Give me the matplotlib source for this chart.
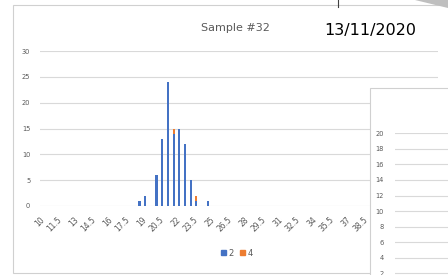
import numpy as np
import matplotlib
matplotlib.use("Agg")
import matplotlib.pyplot as plt
from matplotlib.patches import Rectangle, Polygon

# category labels (bin starts), step 0.5
cats = np.arange(10, 45, 0.5)

# series "2"
s2_bins = [18.5, 19, 20, 20.5, 21, 21.5, 22, 22.5, 23, 23.5, 24.5]
s2_counts = [1, 2, 6, 13, 24, 14, 15, 12, 5, 1, 1]
# series "4"
s4_bins = [21.5, 23.5]
s4_counts = [1, 1]

# second (partly hidden) chart y ticks
y2_ticks = [2, 4, 6, 8, 10, 12, 14, 16, 18, 20]

s2 = np.zeros(len(cats))
s4 = np.zeros(len(cats))
for b, c in zip(s2_bins, s2_counts):
    s2[np.where(np.isclose(cats, b))[0][0]] = c
for b, c in zip(s4_bins, s4_counts):
    s4[np.where(np.isclose(cats, b))[0][0]] = c

W, H = 448, 275
fig = plt.figure(figsize=(W / 100, H / 100), dpi=100)
fig.patch.set_facecolor("white")

def fx(px):
    return px / W

def fy(py):
    return 1 - py / H

blue = "#4472C4"
orange = "#ED7D31"
grid = "#d9d9d9"
tcol = "#595959"

# chart border
fig.patches.append(Rectangle((fx(13), fy(273)), fx(460) - fx(13), fy(5) - fy(273),
                             transform=fig.transFigure, facecolor="white",
                             edgecolor="#d0d0d0", lw=0.8, zorder=-1))
# bits of window at top right
fig.patches.append(Polygon([(fx(415), 1), (fx(448), 1), (fx(448), fy(8))],
                           closed=True, transform=fig.transFigure,
                           facecolor="#bfbfbf", edgecolor="none", zorder=-1))
fig.lines.append(plt.Line2D([fx(338), fx(338)], [1, fy(7)], transform=fig.transFigure,
                            color="#404040", lw=0.8))

ax = fig.add_axes([fx(40), fy(206), fx(438) - fx(40), fy(51) - fy(206)])
x = np.arange(len(cats))
ax.bar(x, s2, width=0.38, color=blue, zorder=3)
ax.bar(x, s4, bottom=s2, width=0.38, color=orange, zorder=3)
ax.set_xlim(-0.5, len(cats) - 0.5)
ax.set_ylim(0, 30)
ax.set_yticks(range(0, 31, 5))
ax.yaxis.grid(True, color=grid, lw=0.8)
ax.set_axisbelow(True)
for s in ax.spines.values():
    s.set_visible(False)
ax.tick_params(length=0, labelsize=4.8, colors=tcol, pad=7)
ax.set_xticks(x[::3])
ax.set_xticklabels([f"{c:g}" for c in cats[::3]], rotation=45, ha="right",
                   rotation_mode="anchor", va="center", fontsize=5.5)
ax.tick_params(axis="x", pad=9)

fig.text(fx(235), fy(28), "Sample #32", ha="center", va="center",
         fontsize=8, color=tcol)
fig.text(fx(370), fy(30), "13/11/2020", ha="center", va="center",
         fontsize=11.5, color="black")

leg = fig.legend(handles=[Rectangle((0, 0), 1, 1, color=blue),
                          Rectangle((0, 0), 1, 1, color=orange)],
                 labels=["2", "4"], ncol=2, loc="center",
                 bbox_to_anchor=(fx(237), fy(253)), frameon=False,
                 fontsize=6, handlelength=0.6, handleheight=0.6,
                 handletextpad=0.3, columnspacing=0.8, labelcolor=tcol)

# overlapping second chart
fig.patches.append(Rectangle((fx(370), fy(290)), fx(470) - fx(370), fy(88) - fy(290),
                             transform=fig.transFigure, facecolor="white",
                             edgecolor="#d0d0d0", lw=0.8, zorder=1))
ax2 = fig.add_axes([fx(395), fy(288.8), fx(460) - fx(395), fy(133.3) - fy(288.8)],
                   zorder=2)
ax2.set_facecolor("none")
ax2.set_ylim(0, 20)
ax2.set_xlim(0, 1)
ax2.set_yticks(y2_ticks)
ax2.set_xticks([])
ax2.yaxis.grid(True, color=grid, lw=0.8)
for s in ax2.spines.values():
    s.set_visible(False)
ax2.tick_params(length=0, labelsize=4.8, colors=tcol, pad=8)

fig.savefig("out.png", dpi=100)
